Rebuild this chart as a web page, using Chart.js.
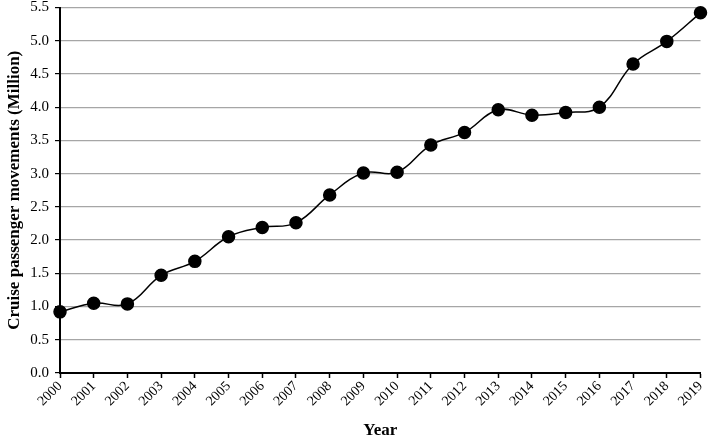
<!DOCTYPE html>
<html>
<head>
<meta charset="utf-8">
<script src="https://cdn.jsdelivr.net/npm/chart.js@4"></script>
<style>
  html, body { margin: 0; padding: 0; background: #fff; }
  #wrap { width: 708px; height: 436px; }
</style>
</head>
<body>
<div id="wrap"><canvas id="cruiseChart" width="708" height="436"></canvas></div>
<script>
const years = ['2000', '2001', '2002', '2003', '2004', '2005', '2006', '2007', '2008', '2009',
               '2010', '2011', '2012', '2013', '2014', '2015', '2016', '2017', '2018', '2019'];
const passengers = [0.92, 1.05, 1.04, 1.47, 1.68, 2.05, 2.19, 2.26, 2.68, 3.01,
                    3.02, 3.43, 3.62, 3.96, 3.88, 3.92, 4.00, 4.65, 4.99, 5.42];

const serif = "'Liberation Serif', 'Times New Roman', serif";

const ctx = document.getElementById('cruiseChart').getContext('2d');

const chart = new Chart(ctx, {
    type: 'line',
    data: {
        labels: years,
        datasets: [{
            label: 'Cruise passenger movements',
            data: passengers,
            borderColor: '#000',
            borderWidth: 1.5,
            backgroundColor: '#000',
            pointBackgroundColor: '#000',
            pointBorderColor: '#000',
            pointRadius: 6,
            tension: 0.4,
            clip: false
        }]
    },
    options: {
        responsive: false,
        animation: false,
        layout: { padding: { left: 0, right: 3, top: 4, bottom: 0 } },
        plugins: {
            legend: { display: false },
            tooltip: { enabled: false }
        },
        scales: {
            x: {
                offset: false,
                grid: { drawOnChartArea: false, tickLength: 5, color: '#000', tickWidth: 1.5 },
                border: { color: '#000', width: 2 },
                ticks: {
                    color: '#000',
                    font: { family: serif, size: 14 },
                    maxRotation: 45,
                    minRotation: 45,
                    autoSkip: false,
                    padding: 0
                },
                title: {
                    display: true,
                    text: 'Year',
                    color: '#000',
                    font: { family: serif, size: 17, weight: 'bold' },
                    padding: { top: 0, bottom: -5 }
                },
                afterFit: function(scale) {
                    scale.height = 63;
                    scale.paddingLeft = 0;
                    scale.paddingRight = 0;
                }
            },
            y: {
                min: 0,
                max: 5.5,
                grid: { color: '#a6a6a6', lineWidth: 1.2, tickLength: 5, tickColor: '#000' },
                border: { color: '#000', width: 2 },
                ticks: {
                    stepSize: 0.5,
                    color: '#000',
                    font: { family: serif, size: 15 },
                    padding: 6,
                    callback: function(v) { return v.toFixed(1); }
                },
                title: {
                    display: true,
                    text: 'Cruise passenger movements (Million)',
                    color: '#000',
                    font: { family: serif, size: 17, weight: 'bold' },
                    padding: { top: 4, bottom: 0 }
                },
                afterFit: function(scale) {
                    scale.width = 60;
                    scale.paddingTop = 0;
                    scale.paddingBottom = 0;
                }
            }
        }
    }
});
</script>
</body>
</html>
